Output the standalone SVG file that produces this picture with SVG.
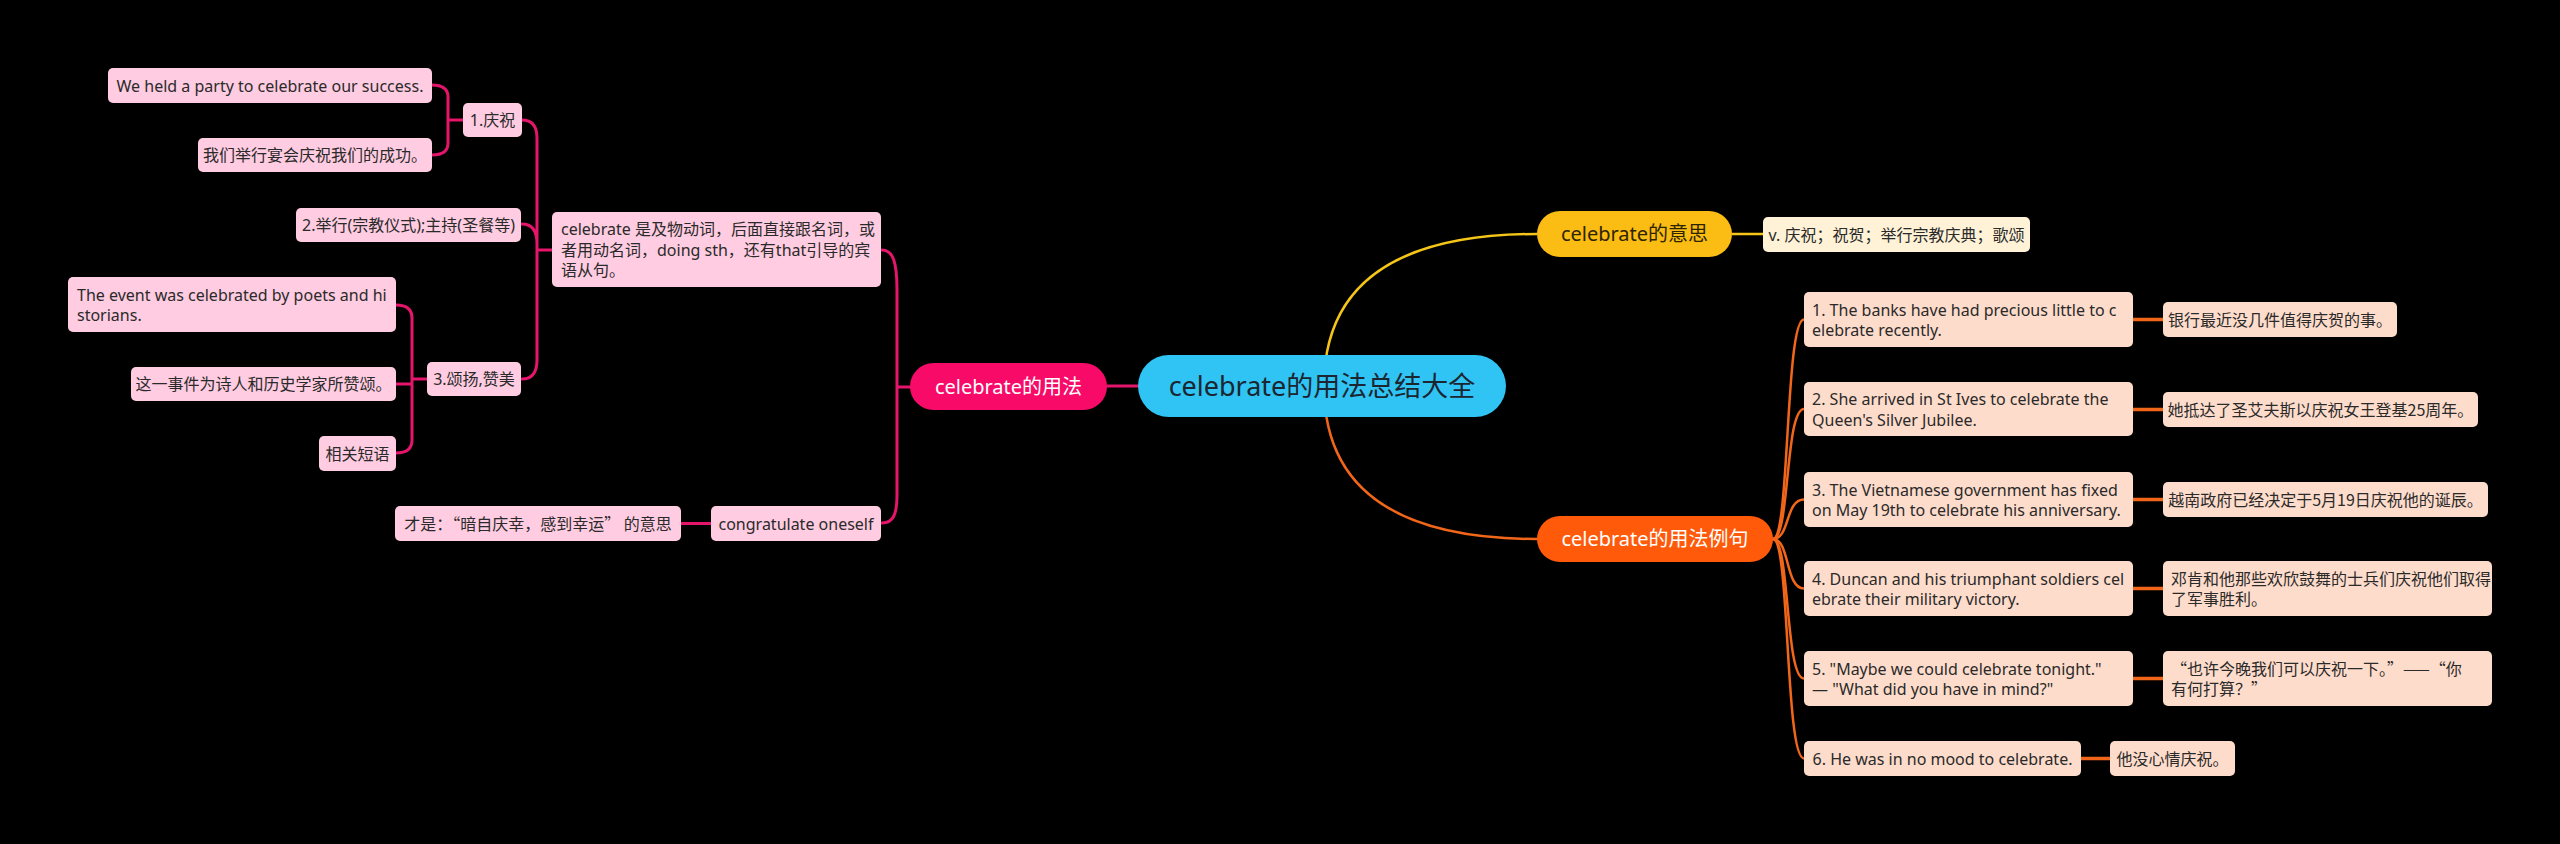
<svg xmlns="http://www.w3.org/2000/svg" width="2560" height="844" viewBox="0 0 2560 844">
<style>
text{font-size:16px;fill:#2a2a2a}
.en{font-family:"Noto Sans","Noto Sans CJK SC",sans-serif}
.zh{font-family:"Noto Sans CJK SC","Noto Sans",sans-serif}
.mid{text-anchor:middle}
.pk{fill:#FFCCE1}
.or{fill:#FEDCCB}
.ye{fill:#FFF2D6}
.cp{fill:none;stroke:#E5156B;stroke-width:3;stroke-linecap:round}
.co{fill:none;stroke:#F2661A;stroke-width:2.5;stroke-linecap:round}
.co3{fill:none;stroke:#F2661A;stroke-width:3.5}
.cy{fill:none;stroke:#F5C518;stroke-width:2.5}
</style>
<rect x="0" y="0" width="2560" height="844" fill="#000"/>
<g id="connectors">
<path class="cp" d="M1107,386 H1138"/>
<path class="cp" d="M882,250 C893,250 897,262 897,290 V495 C897,515 893,523 882,523 M897,387 H910"/>
<path class="cp" d="M522,120 C532,120 537,126 537,138 V360 C537,372 532,379 522,379 M522,224 C532,224 537,230 537,244 M537,250 H552"/>
<path class="cp" d="M432,85 C443,85 448,89 448,97 V143 C448,151 443,155 432,155 M448,120 H463"/>
<path class="cp" d="M396,305 C407,305 412,310 412,318 V440 C412,448 407,453 396,453 M396,384 H412 M412,379 H427"/>
<path class="cp" d="M681,523.5 H711"/>
<path class="cy" d="M1324,386 Q1324,234 1537,234"/>
<path class="cy" d="M1732,234 H1763"/>
<path class="co" d="M1324,386 Q1324,539 1537,539"/>
<path class="co" d="M1773,539 C1790,539 1785,319.5 1804,319.5"/>
<path class="co" d="M1773,539 C1790,539 1785,409 1804,409"/>
<path class="co" d="M1773,539 C1790,539 1785,499.5 1804,499.5"/>
<path class="co" d="M1773,539 C1790,539 1785,588.5 1804,588.5"/>
<path class="co" d="M1773,539 C1790,539 1785,678.5 1804,678.5"/>
<path class="co" d="M1773,539 C1790,539 1785,758.5 1804,758.5"/>
<path class="co3" d="M2133,319.5 H2163 M2133,409.5 H2163 M2133,499.5 H2163 M2133,588.5 H2163 M2133,678.5 H2163 M2081,758.5 H2110"/>
</g>
<g id="center">
<rect x="1138" y="355" width="368" height="62" rx="31" fill="#30C4F4"/>
<text class="en mid" x="1322" y="395.5" style="font-size:27px;fill:#1b2631">celebrate的用法总结大全</text>
</g>
<g id="n-usage">
<rect x="910" y="363" width="197" height="47" rx="23.5" fill="#F70A68"/>
<text class="en mid" x="1008.5" y="393.5" style="font-size:20px;fill:#fff">celebrate的用法</text>
</g>
<g id="n-meaning">
<rect x="1537" y="211" width="195" height="46" rx="23" fill="#FBBC13"/>
<text class="en mid" x="1634.5" y="241" style="font-size:20px;fill:#2e2500">celebrate的意思</text>
</g>
<g id="n-examples">
<rect x="1537" y="516" width="236" height="46" rx="23" fill="#FF5A0A"/>
<text class="en mid" x="1655" y="546" style="font-size:20px;fill:#fff">celebrate的用法例句</text>
</g>
<g id="n-meaning-def">
<rect class="ye" x="1763" y="217" width="267" height="35" rx="5"/>
<text class="en mid" x="1896.5" y="240.5">v. 庆祝；祝贺；举行宗教庆典；歌颂</text>
</g>
<g id="n-trans-desc">
<rect class="pk" x="552" y="212" width="329" height="75" rx="5"/>
<text class="en" x="561" y="235">celebrate 是及物动词，后面直接跟名词，或</text>
<text class="en" x="561" y="255.5">者用动名词，doing sth，还有that引导的宾</text>
<text class="en" x="561" y="276">语从句。</text>
</g>
<g id="n-sense1">
<rect class="pk" x="463" y="103" width="59" height="34" rx="5"/>
<text class="en mid" x="492.5" y="126">1.庆祝</text>
</g>
<g id="n-sense1-en">
<rect class="pk" x="108" y="68" width="324" height="35" rx="5"/>
<text class="en mid" x="270" y="91.5">We held a party to celebrate our success.</text>
</g>
<g id="n-sense1-zh">
<rect class="pk" x="198" y="138" width="234" height="34" rx="5"/>
<text class="zh mid" x="315" y="161">我们举行宴会庆祝我们的成功。</text>
</g>
<g id="n-sense2">
<rect class="pk" x="296" y="208" width="225" height="34" rx="5"/>
<text class="en mid" x="408.5" y="231">2.举行(宗教仪式);主持(圣餐等)</text>
</g>
<g id="n-sense3">
<rect class="pk" x="427" y="362" width="94" height="34" rx="5"/>
<text class="en mid" x="474" y="385">3.颂扬,赞美</text>
</g>
<g id="n-sense3-en">
<rect class="pk" x="68" y="277" width="328" height="55" rx="5"/>
<text class="en" x="77" y="300.5">The event was celebrated by poets and hi</text>
<text class="en" x="77" y="321">storians.</text>
</g>
<g id="n-sense3-zh">
<rect class="pk" x="131" y="367" width="265" height="34" rx="5"/>
<text class="zh mid" x="263.5" y="390">这一事件为诗人和历史学家所赞颂。</text>
</g>
<g id="n-phrases">
<rect class="pk" x="319" y="436" width="77" height="35" rx="5"/>
<text class="zh mid" x="357.5" y="459.5">相关短语</text>
</g>
<g id="n-congrat">
<rect class="pk" x="711" y="506" width="170" height="35" rx="5"/>
<text class="en mid" x="796" y="529.5">congratulate oneself</text>
</g>
<g id="n-congrat-zh">
<rect class="pk" x="395" y="506" width="286" height="35" rx="5"/>
<text class="zh mid" x="538" y="529.5">才是：“暗自庆幸，感到幸运” 的意思</text>
</g>
<g id="n-ex1">
<rect class="or" x="1804" y="292" width="329" height="55" rx="5"/>
<text class="en" x="1812" y="315.5">1. The banks have had precious little to c</text>
<text class="en" x="1812" y="336">elebrate recently.</text>
</g>
<g id="n-ex1-zh">
<rect class="or" x="2163" y="302" width="234" height="35" rx="5"/>
<text class="zh mid" x="2280" y="325.5">银行最近没几件值得庆贺的事。</text>
</g>
<g id="n-ex2">
<rect class="or" x="1804" y="382" width="329" height="54" rx="5"/>
<text class="en" x="1812" y="405">2. She arrived in St Ives to celebrate the</text>
<text class="en" x="1812" y="425.5">Queen's Silver Jubilee.</text>
</g>
<g id="n-ex2-zh">
<rect class="or" x="2163" y="392" width="315" height="35" rx="5"/>
<text class="zh mid" x="2320.5" y="415.5">她抵达了圣艾夫斯以庆祝女王登基25周年。</text>
</g>
<g id="n-ex3">
<rect class="or" x="1804" y="472" width="329" height="55" rx="5"/>
<text class="en" x="1812" y="495.5">3. The Vietnamese government has fixed</text>
<text class="en" x="1812" y="516">on May 19th to celebrate his anniversary.</text>
</g>
<g id="n-ex3-zh">
<rect class="or" x="2163" y="482" width="325" height="35" rx="5"/>
<text class="zh mid" x="2325.5" y="505.5">越南政府已经决定于5月19日庆祝他的诞辰。</text>
</g>
<g id="n-ex4">
<rect class="or" x="1804" y="561" width="329" height="55" rx="5"/>
<text class="en" x="1812" y="584.5">4. Duncan and his triumphant soldiers cel</text>
<text class="en" x="1812" y="605">ebrate their military victory.</text>
</g>
<g id="n-ex4-zh">
<rect class="or" x="2163" y="561" width="329" height="55" rx="5"/>
<text class="zh" x="2171" y="584.5">邓肯和他那些欢欣鼓舞的士兵们庆祝他们取得</text>
<text class="zh" x="2171" y="605">了军事胜利。</text>
</g>
<g id="n-ex5">
<rect class="or" x="1804" y="651" width="329" height="55" rx="5"/>
<text class="en" x="1812" y="674.5">5. "Maybe we could celebrate tonight."</text>
<text class="en" x="1812" y="695">— "What did you have in mind?"</text>
</g>
<g id="n-ex5-zh">
<rect class="or" x="2163" y="651" width="329" height="55" rx="5"/>
<text class="zh" x="2171" y="674.5">“也许今晚我们可以庆祝一下。”——“你</text>
<text class="zh" x="2171" y="695">有何打算？”</text>
</g>
<g id="n-ex6">
<rect class="or" x="1804" y="741" width="277" height="35" rx="5"/>
<text class="en mid" x="1942.5" y="764.5">6. He was in no mood to celebrate.</text>
</g>
<g id="n-ex6-zh">
<rect class="or" x="2110" y="741" width="125" height="35" rx="5"/>
<text class="zh mid" x="2172.5" y="764.5">他没心情庆祝。</text>
</g>
</svg>
